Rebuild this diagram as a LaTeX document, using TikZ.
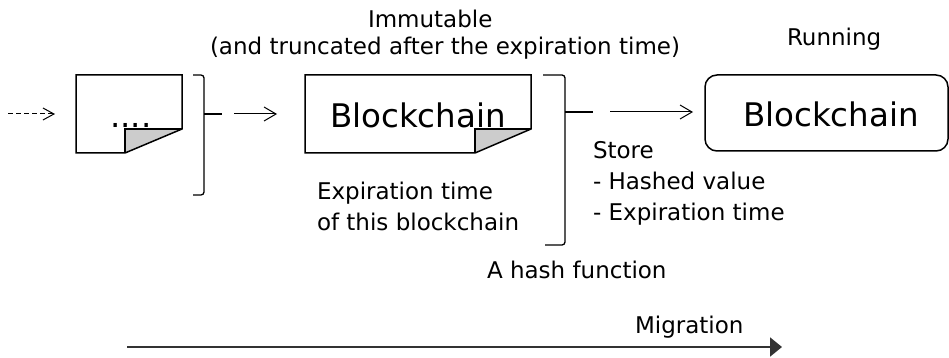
\documentclass[tikz,border=0pt]{standalone}
\usepackage{fontspec}
\setmainfont{DejaVu Sans}
\usetikzlibrary{arrows.meta}
\definecolor{foldgray}{HTML}{CCCCCC}
\definecolor{migcol}{HTML}{333333}
\tikzset{
  lbl/.style={inner sep=0pt, outer sep=0pt, anchor=base west, font=\fontsize{23}{27}\selectfont},
  biglbl/.style={inner sep=0pt, outer sep=0pt, anchor=base west, font=\fontsize{32.5}{38}\selectfont},
  pageline/.style={draw=black, line width=1.5pt, line join=miter},
  foldfill/.style={fill=foldgray},
  bracket/.style={draw=black, line width=1.3pt, rounded corners=3pt},
  thinarrow/.style={draw=black, line width=1pt, -{Straight Barb[length=12pt,width=14pt,line width=1pt]}},
  dasharrow/.style={draw=black, line width=1pt, dash pattern=on 5pt off 3pt, -{Straight Barb[length=11pt,width=12pt,line width=1pt]}},
  migarrow/.style={draw=migcol, line width=2pt, -{Triangle[length=12pt,width=19pt]}, color=migcol},
  runbox/.style={draw=black, line width=1.5pt, rounded corners=12pt}
}
\begin{document}
\begin{tikzpicture}[x=1pt,y=-1pt]
\useasboundingbox (0,0) rectangle (949,358);

% ---- document 1 ----
\fill[foldfill] (125,129) -- (182,129) -- (125,153) -- cycle;
\draw[pageline] (76,75) -- (182,75) -- (182,129) -- (125,153) -- (76,153) -- cycle;
\draw[pageline] (125,153) -- (125,129) -- (182,129);
\node[biglbl] (dots) at (110,128) {....};

% ---- document 2 ----
\fill[foldfill] (475,129) -- (531,129) -- (475,153) -- cycle;
\draw[pageline] (305,75) -- (531,75) -- (531,129) -- (475,153) -- (305,153) -- cycle;
\draw[pageline] (475,153) -- (475,129) -- (531,129);
\node[biglbl] (bc1) at (330,128) {Blockchain};

% ---- running blockchain ----
\draw[runbox] (705,75) rectangle (948,151);
\node[biglbl] (bc2) at (743,127) {Blockchain};

% ---- brackets ----
\draw[bracket] (193,75) -- (204,75) -- (204,195) -- (193,195);
\draw[line width=1.3pt] (204,114) -- (222,114);
\draw[bracket] (543,75) -- (565,75) -- (565,245) -- (545,245);
\draw[line width=1.3pt] (565,112) -- (593,112);

% ---- arrows ----
\coordinate (dstart) at (8,114);
\coordinate (dend) at (55,114);
\draw[dasharrow] (dstart) -- (dend);
\coordinate (a1s) at (234,114);
\coordinate (a1e) at (277,114);
\draw[thinarrow] (a1s) -- (a1e);
\coordinate (a2s) at (610,112);
\coordinate (a2e) at (693,112);
\draw[thinarrow] (a2s) -- (a2e);

% ---- labels ----
\node[lbl] (imm) at (368,28) {Immutable};
\node[lbl, anchor=base] (trunc) at (445,55) {(and truncated after the expiration time)};
\node[lbl] (run) at (787,46) {Running};
\node[lbl] (exp1) at (317,199) {Expiration time};
\node[lbl] (exp2) at (317,230) {of this blockchain};
\node[lbl] (st1) at (593,158) {Store};
\node[lbl] (st2) at (593,189) {- Hashed value};
\node[lbl] (st3) at (593,220) {- Expiration time};
\node[lbl] (hash) at (487,278) {A hash function};
\node[lbl] (mig) at (635,333) {Migration};

% ---- migration arrow ----
\coordinate (ms) at (127,347);
\coordinate (me) at (782,347);
\draw[migarrow] (ms) -- (me);
\end{tikzpicture}
\end{document}
